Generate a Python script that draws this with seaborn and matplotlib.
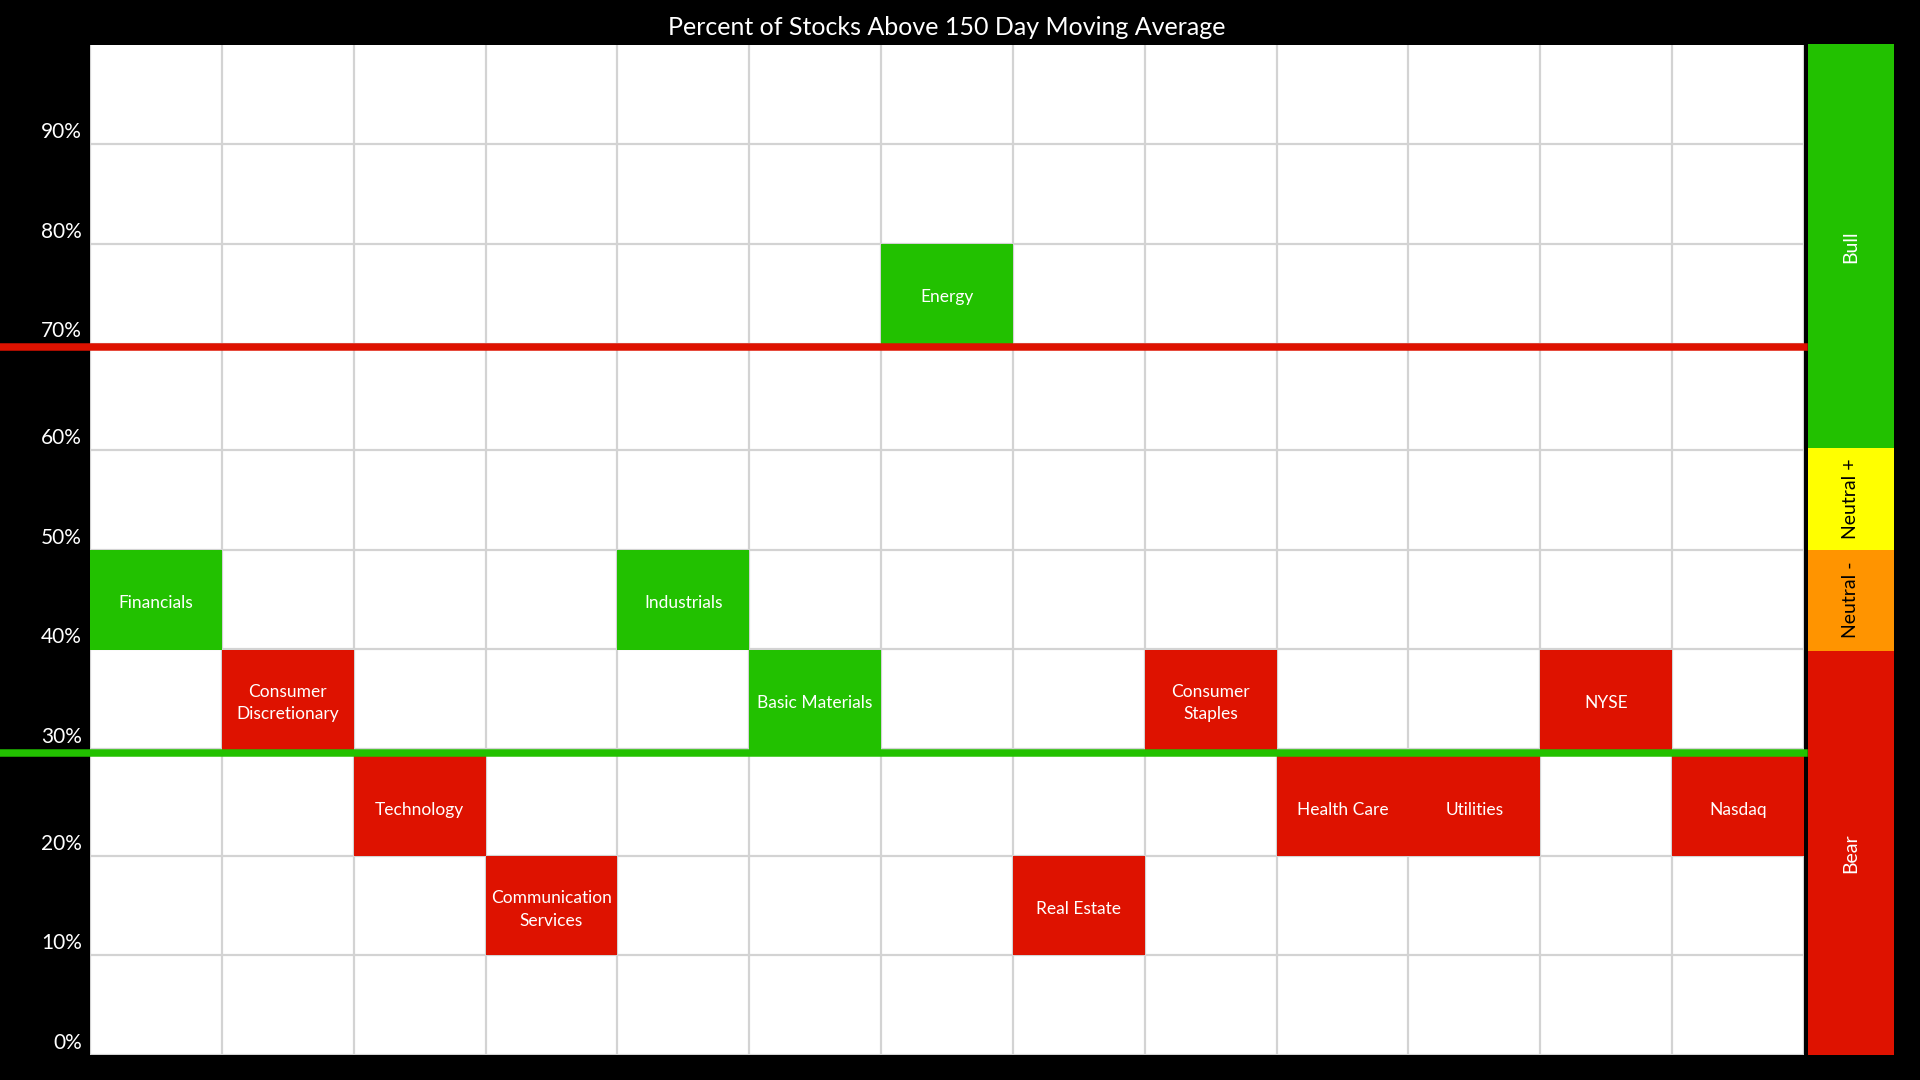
import numpy as np
import matplotlib
matplotlib.use("Agg")
import matplotlib.pyplot as plt
from matplotlib.colors import ListedColormap
import matplotlib.transforms as mtransforms
import seaborn as sns

# ---- data -------------------------------------------------------------
sectors = [
    "Financials", "Consumer\nDiscretionary", "Technology", "Communication\nServices",
    "Industrials", "Basic Materials", "Energy", "Real Estate",
    "Consumer\nStaples", "Health Care", "Utilities", "NYSE", "Nasdaq",
]
# lower edge of the 10% bucket each group sits in
pct_bucket = [40, 30, 20, 10, 40, 30, 70, 10, 30, 20, 20, 30, 20]
# "up" groups are drawn green, "down" groups red
signal = ["up", "down", "down", "down", "up", "up", "up", "down",
          "down", "down", "down", "down", "down"]

bucket_lows = [90, 80, 70, 60, 50, 40, 30, 20, 10, 0]
ytick_values = [90, 80, 70, 60, 50, 40, 30, 20, 10, 0]

bull_threshold = 70
bear_threshold = 30

zone_names = ["Bear", "Neutral -", "Neutral +", "Bull"]
zone_low = [0, 40, 50, 60]
zone_high = [40, 50, 60, 100]

title = "Percent of Stocks Above 150 Day Moving Average"

# ---- style ------------------------------------------------------------
GREEN = "#22C100"
RED = "#DE1200"
YELLOW = "#FFFF00"
ORANGE = "#FF9400"
GRID = "#D3D3D3"
zone_colors = [RED, ORANGE, YELLOW, GREEN]
zone_text = ["white", "black", "black", "white"]

plt.rcParams["font.family"] = ["Lato", "DejaVu Sans"]

W, H = 1920, 1080
fig = plt.figure(figsize=(W / 100, H / 100), dpi=100, facecolor="black")
ax_left, ax_bottom, ax_w, ax_h = 90 / W, 25 / H, 1714 / W, 1010 / H
ax = fig.add_axes([ax_left, ax_bottom, ax_w, ax_h])
ax.set_facecolor("white")

# ---- grid of buckets ----------------------------------------------------
codes = {"up": 0, "down": 1}
grid = np.full((len(bucket_lows), len(sectors)), np.nan)
labels = np.full(grid.shape, "", dtype=object)
for col, (name, b, s) in enumerate(zip(sectors, pct_bucket, signal)):
    row = bucket_lows.index(b)
    grid[row, col] = codes[s]
    labels[row, col] = name

sns.heatmap(
    grid, ax=ax, cmap=ListedColormap([GREEN, RED]), vmin=0, vmax=1,
    cbar=False, annot=labels, fmt="",
    annot_kws=dict(color="white", fontsize=12.5, linespacing=1.5),
)
# sit the cell captions a touch below the geometric centre
down = mtransforms.ScaledTranslation(0, -2.6 / 72, fig.dpi_scale_trans)
for t in ax.texts:
    t.set_transform(t.get_transform() + down)


def to_row(v):
    return (100 - v) / 10.0


# The two threshold bars take up their own band between rows, so the row
# axis gets a short, steep step at each threshold.
GAP = 0.075      # thickness of a threshold bar, in rows
EPS = 1e-4
steps = sorted([to_row(bull_threshold), to_row(bear_threshold)])
knots = [-1e6]
for t in steps:
    knots += [t - EPS, t + EPS]
knots.append(1e6)
knots = np.array(knots)
mapped = knots.copy()
for i in range(len(steps)):
    mapped[2 + 2 * i:] += GAP


def fwd(y):
    return np.interp(y, knots, mapped)


def inv(y):
    return np.interp(y, mapped, knots)


ax.set_yscale("function", functions=(fwd, inv))
ax.set_xlim(0, len(sectors))
ax.set_ylim(len(bucket_lows), 0)
ax.set_xticks(np.arange(0, len(sectors) + 1))
ax.set_xticklabels([])
ax.set_yticks([to_row(v) - EPS for v in ytick_values])
ax.set_yticklabels([f"{v}%" for v in ytick_values], rotation=0,
                   color="white", fontsize=15)
ax.yaxis.set_minor_locator(matplotlib.ticker.NullLocator())
ax.tick_params(which="both", length=0, pad=6)
ax.grid(True, which="major", color=GRID, linewidth=1.6)
ax.set_axisbelow(True)
for sp in ax.spines.values():
    sp.set_visible(False)

shift = mtransforms.ScaledTranslation(0, 1.6 / 72, fig.dpi_scale_trans)
for lab in ax.get_yticklabels():
    lab.set_va("bottom")
    lab.set_transform(lab.get_transform() + shift)

# threshold lines run out to the figure's left edge
x_from = -ax_left / ax_w
ax.axhline(to_row(bull_threshold), xmin=x_from, xmax=1, color=RED,
           linewidth=5.4, clip_on=False, zorder=5)
ax.axhline(to_row(bear_threshold), xmin=x_from, xmax=1, color=GREEN,
           linewidth=5.4, clip_on=False, zorder=5)

ax.set_title(title, color="white", fontsize=18, pad=7)

# ---- zone strip -------------------------------------------------------
zx = fig.add_axes([1808 / W, ax_bottom, 86 / W, ax_h + 1 / H])
zx.set_facecolor("black")
heights = [h - l for l, h in zip(zone_low, zone_high)]
zx.bar([0] * len(zone_names), heights, bottom=zone_low, width=1.0,
       color=zone_colors, linewidth=0)
for name, lo, hi, tc in zip(zone_names, zone_low, zone_high, zone_text):
    zx.text(0, (lo + hi) / 2, name, rotation=90, ha="center", va="center",
            color=tc, fontsize=14)
zx.set_xlim(-0.5, 0.5)
zx.set_ylim(0, 100)
zx.axis("off")

fig.savefig("out.png", dpi=100, facecolor="black")
